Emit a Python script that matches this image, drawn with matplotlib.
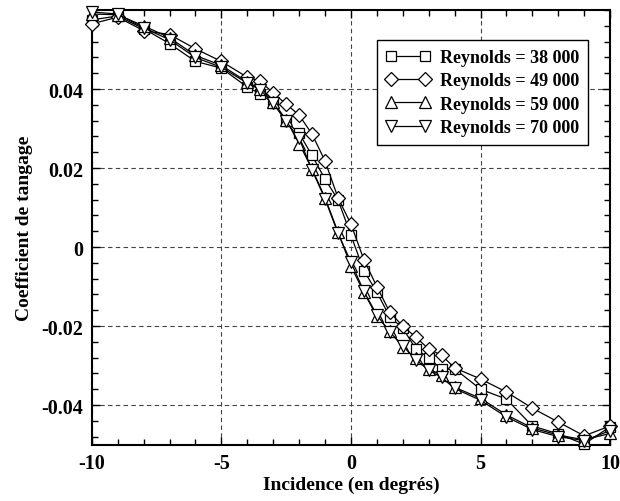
import numpy as np
import matplotlib.pyplot as plt
from matplotlib.ticker import MultipleLocator

plt.rcParams["font.family"] = ["Liberation Serif", "DejaVu Serif"]

incidence = [-10, -9, -8, -7, -6, -5, -4, -3.5, -3, -2.5, -2, -1.5, -1, -0.5,
             0, 0.5, 1, 1.5, 2, 2.5, 3, 3.5, 4, 5, 6, 7, 8, 9, 10]

cm_38000 = [0.0575, 0.0585, 0.0553, 0.0515, 0.0470, 0.0453, 0.0405, 0.0388,
            0.0365, 0.0318, 0.0288, 0.0232, 0.0172, 0.0120, 0.0030, -0.0060,
            -0.0114, -0.0177, -0.0205, -0.0258, -0.0280, -0.0310, -0.0308,
            -0.0360, -0.0385, -0.0453, -0.0473, -0.0499, -0.0455]
cm_49000 = [0.0565, 0.0582, 0.0548, 0.0538, 0.0502, 0.0470, 0.0430, 0.0420,
            0.0390, 0.0362, 0.0334, 0.0286, 0.0218, 0.0125, 0.0058, -0.0032,
            -0.0100, -0.0165, -0.0200, -0.0228, -0.0258, -0.0274, -0.0306,
            -0.0334, -0.0367, -0.0408, -0.0443, -0.0478, -0.0453]
cm_59000 = [0.0590, 0.0588, 0.0560, 0.0530, 0.0485, 0.0460, 0.0418, 0.0400,
            0.0368, 0.0322, 0.0262, 0.0198, 0.0125, 0.0038, -0.0048, -0.0115,
            -0.0175, -0.0213, -0.0253, -0.0282, -0.0308, -0.0325, -0.0355,
            -0.0383, -0.0425, -0.0458, -0.0476, -0.0488, -0.0472]
cm_70000 = [0.0595, 0.0590, 0.0555, 0.0525, 0.0480, 0.0455, 0.0415, 0.0398,
            0.0365, 0.0318, 0.0275, 0.0195, 0.0122, 0.0035, -0.0038, -0.0112,
            -0.0172, -0.0215, -0.0250, -0.0285, -0.0312, -0.0330, -0.0358,
            -0.0388, -0.0430, -0.0462, -0.0480, -0.0490, -0.0465]

series = [
    ("Reynolds = 38 000", cm_38000, "s", 7.5),
    ("Reynolds = 49 000", cm_49000, "D", 6.8),
    ("Reynolds = 59 000", cm_59000, "^", 8.5),
    ("Reynolds = 70 000", cm_70000, "v", 8.5),
]

fig = plt.figure(figsize=(6.2, 5.02), dpi=100)
ax = fig.add_axes([0.148, 0.1125, 0.836, 0.8655])

for label, values, marker, msize in series:
    ax.plot(incidence, values, color="black", linewidth=0.9,
            marker=marker, markersize=msize,
            markerfacecolor="white", markeredgecolor="black",
            markeredgewidth=0.9, label=label, clip_on=False, zorder=3)

ax.set_xlim(-10, 10)
ax.set_ylim(-0.05, 0.06)
ax.xaxis.set_minor_locator(MultipleLocator(1))
ax.yaxis.set_minor_locator(MultipleLocator(0.004))
ax.set_yticks([-0.04, -0.02, 0, 0.02, 0.04])
ax.set_yticklabels(["-0.04", "-0.02", "0", "0.02", "0.04"])
ax.set_xticks([-10, -5, 0, 5, 10])
ax.set_xticklabels(["-10", "-5", "0", "5", "10"])

ax.tick_params(which="both", direction="in", top=True, right=True,
               labelsize=14.5, width=1.0)
ax.tick_params(which="major", length=5.5, pad=6)
ax.tick_params(which="minor", length=4)
for lab in ax.get_xticklabels() + ax.get_yticklabels():
    lab.set_fontweight("bold")
for sp in ax.spines.values():
    sp.set_linewidth(1.5)

ax.grid(True, which="major", linestyle=(0, (4, 3)), color="#444444",
        linewidth=0.8)

ax.set_xlabel("Incidence (en degrés)", fontsize=14, fontweight="bold",
              labelpad=2)
ax.set_ylabel("Coefficient de tangage", fontsize=14, fontweight="bold",
              labelpad=6)

leg = ax.legend(loc="upper right", bbox_to_anchor=(0.9575, 0.931),
                borderaxespad=0, numpoints=2, handlelength=2.5,
                fancybox=False, framealpha=1, edgecolor="black",
                borderpad=0.5, labelspacing=0.35, handletextpad=0.5,
                prop={"size": 13, "weight": "bold"})
leg.get_frame().set_linewidth(1.0)

fig.savefig("out.png", dpi=100)
